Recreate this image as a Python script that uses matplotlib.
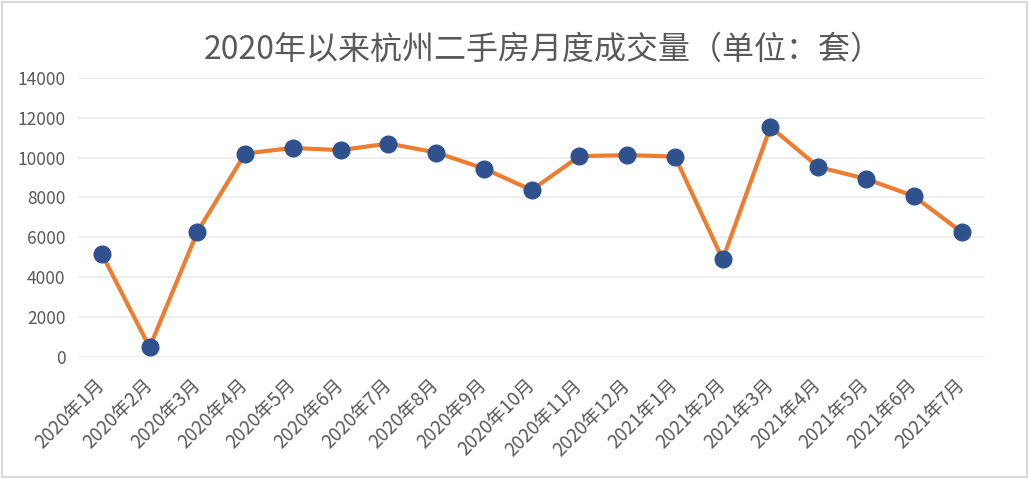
import numpy as np
import matplotlib
matplotlib.use('Agg')
import matplotlib.pyplot as plt
import matplotlib.patches as patches

plt.rcParams['font.family'] = ['Noto Sans CJK SC', 'DejaVu Sans']

months = ['2020年1月', '2020年2月', '2020年3月', '2020年4月', '2020年5月', '2020年6月',
          '2020年7月', '2020年8月', '2020年9月', '2020年10月', '2020年11月', '2020年12月',
          '2021年1月', '2021年2月', '2021年3月', '2021年4月', '2021年5月', '2021年6月',
          '2021年7月']
volume = [5170, 500, 6280, 10200, 10480, 10370, 10700, 10250, 9450, 8370,
          10070, 10120, 10050, 4900, 11530, 9530, 8930, 8070, 6270]
yticks = [0, 2000, 4000, 6000, 8000, 10000, 12000, 14000]

fig = plt.figure(figsize=(10.30, 4.79), dpi=100)
ax = fig.add_axes([0.0757, 0.254, 0.881, 0.584])

x = np.arange(len(months))
ax.plot(x, volume, color='#ED7D31', linewidth=3, marker='o', markersize=12,
        markerfacecolor='#2F528F', markeredgecolor='#2F528F', zorder=3)

ax.set_xlim(-0.5, len(months) - 0.5)
ax.set_ylim(0, 14000)
ax.set_yticks(yticks)
ax.set_yticklabels([str(v) for v in yticks], fontsize=12.5)
ax.set_xticks(x)
ax.set_xticklabels(months, rotation=45, ha='right', va='center',
                   rotation_mode='anchor', fontsize=13.5)

ax.grid(axis='y', color='#EBEBEB', linewidth=1.2, zorder=0)
ax.set_axisbelow(True)
for s in ax.spines.values():
    s.set_visible(False)
ax.tick_params(axis='both', length=0, colors='#595959')
ax.tick_params(axis='y', pad=9)
ax.tick_params(axis='x', pad=18)

fig.text(0.527, 0.896, '2020年以来杭州二手房月度成交量（单位：套）', ha='center', va='center',
         fontsize=23, color='#595959')

fig.patches.append(patches.Rectangle((0.002, 0.004), 0.995, 0.992, transform=fig.transFigure,
                                     fill=False, edgecolor='#D9D9D9', linewidth=1.5))

fig.savefig('out.png', dpi=100)
